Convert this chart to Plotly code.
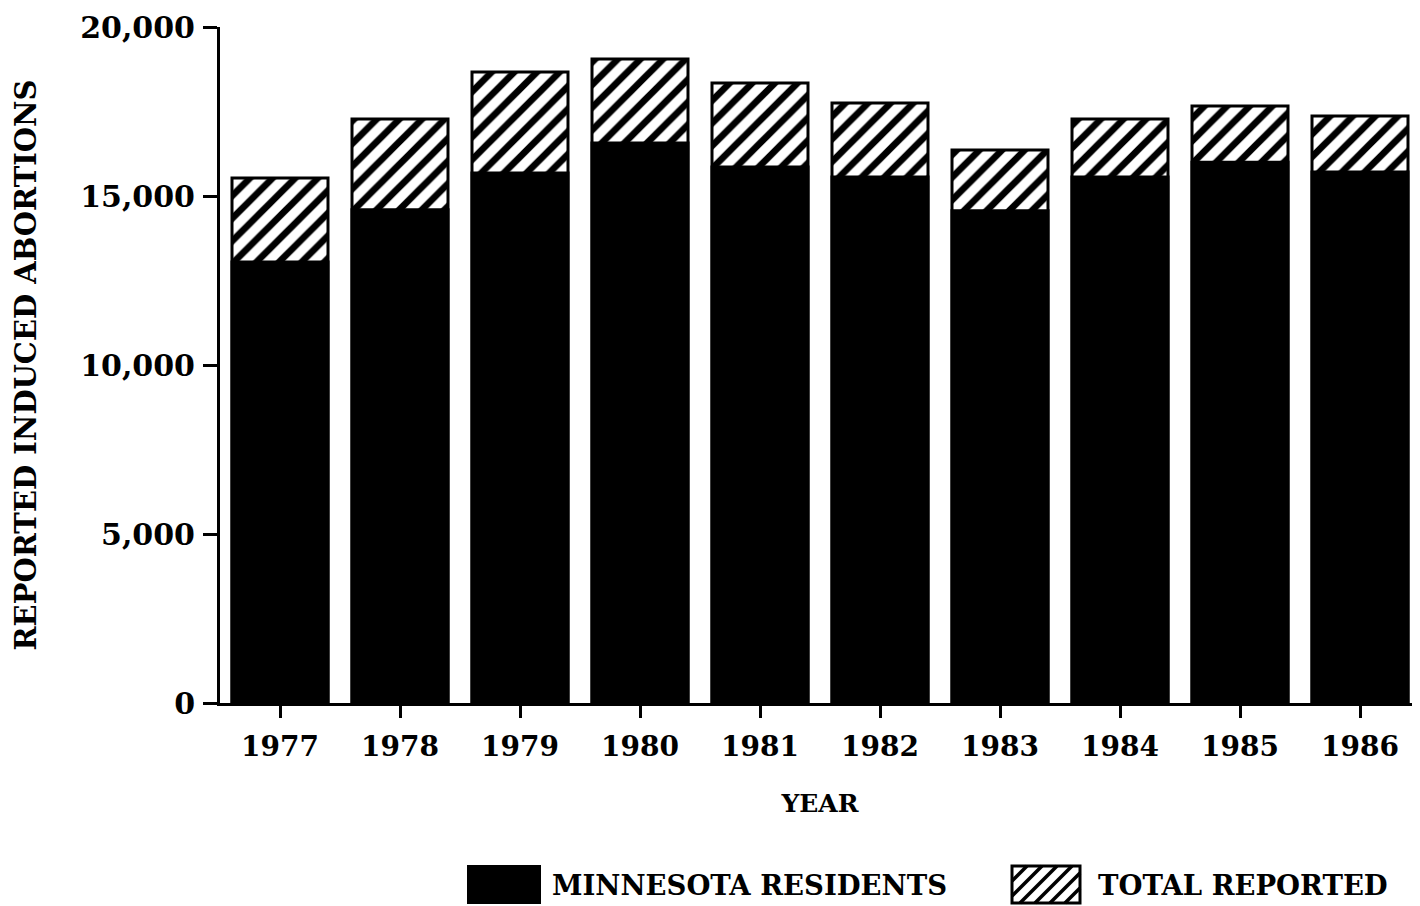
import plotly.graph_objects as go

# ----------------------------------------------------------
# DATA
# ----------------------------------------------------------

years = ["1977", "1978", "1979", "1980", "1981", "1982", "1983", "1984", "1985", "1986"]

minnesota_residents = [13050, 14590, 15680, 16570, 15860, 15560, 14560, 15560, 16000, 15710]

total_reported = [15530, 17280, 18670, 19050, 18340, 17750, 16360, 17280, 17660, 17370]

y_ticks = [0, 5000, 10000, 15000, 20000]


FONT = "DejaVu Serif"
INK = "black"

# page body has an 8px margin, so the figure is a bit smaller than the window
W, H = 1412, 898
L, T, B = 212, 19, 203
PW, PH = W - L, H - T - B


fig = go.Figure()

# hatched total first, solid residents drawn over it
fig.add_trace(go.Bar(
    x=years, y=total_reported, name="TOTAL REPORTED",
    opacity=1,
    marker=dict(
        color="white",
        line=dict(color=INK, width=3),
        pattern=dict(shape="/", fgcolor=INK, bgcolor="white", fgopacity=1,
                     size=16, solidity=0.42),
    ),
    showlegend=False,
))

fig.add_trace(go.Bar(
    x=years, y=minnesota_residents, name="MINNESOTA RESIDENTS",
    opacity=1,
    marker=dict(color=INK, line=dict(color=INK, width=3)),
    showlegend=False,
))

fig.update_layout(
    barmode="overlay",
    bargap=0.2,
    width=W,
    height=H,
    paper_bgcolor="white",
    plot_bgcolor="white",
    margin=dict(l=L, r=0, t=T, b=B),
    font=dict(family=FONT, size=26, color=INK),
)

fig.update_xaxes(
    showline=True, linecolor=INK, linewidth=3,
    ticks="outside", ticklen=12, tickwidth=3, tickcolor=INK,
    tickfont=dict(family=FONT, size=28, weight="bold"),
    ticklabelstandoff=4,
    title=dict(text="<b>YEAR</b>", font=dict(family=FONT, size=25), standoff=33),
    showgrid=False,
)

fig.update_yaxes(
    range=[0, 20000],
    tickvals=y_ticks,
    ticktext=[f"{v:,}" for v in y_ticks],
    showline=True, linecolor=INK, linewidth=3,
    ticks="outside", ticklen=14, tickwidth=3, tickcolor=INK,
    tickfont=dict(family=FONT, size=30, weight="bold"),
    ticklabelstandoff=2,
    title=dict(text="<b>REPORTED INDUCED ABORTIONS</b>", font=dict(family=FONT, size=29), standoff=36),
    showgrid=False, zeroline=False,
)

# ----------------------------------------------------------
# LEGEND (big swatches drawn as shapes, like the original)
# pixel positions below are page pixels of the reference image
# ----------------------------------------------------------

def fx(v):
    return (v - 8 - L) / PW

def fy(v):
    return 1 - (v - 8 - T) / PH

# solid swatch
fig.add_shape(type="rect", xref="paper", yref="paper",
              x0=fx(468), x1=fx(540), y0=fy(903), y1=fy(866),
              fillcolor=INK, line=dict(color=INK, width=2))

# hatched swatch
hx0, hx1, hy0, hy1 = 1012, 1080, 866, 903
fig.add_shape(type="rect", xref="paper", yref="paper",
              x0=fx(hx0), x1=fx(hx1), y0=fy(hy1), y1=fy(hy0),
              fillcolor="white", line=dict(color=INK, width=3))

step = 15
h = hy1 - hy0
start = hx0 - h
while start < hx1:
    ax, ay = start, hy1
    bx, by = start + h, hy0
    # clip to box
    if ax < hx0:
        ay = hy1 - (hx0 - ax)
        ax = hx0
    if bx > hx1:
        by = hy0 + (bx - hx1)
        bx = hx1
    if bx > ax:
        fig.add_shape(type="line", xref="paper", yref="paper",
                      x0=fx(ax), x1=fx(bx), y0=fy(ay), y1=fy(by),
                      line=dict(color=INK, width=3.5))
    start += step

fig.add_annotation(text="<b>MINNESOTA RESIDENTS</b>", xref="paper", yref="paper",
                   x=fx(550), y=fy(885),
                   xanchor="left", yanchor="middle", showarrow=False,
                   font=dict(family=FONT, size=27.5, color=INK))

fig.add_annotation(text="<b>TOTAL REPORTED</b>", xref="paper", yref="paper",
                   x=fx(1096), y=fy(885),
                   xanchor="left", yanchor="middle", showarrow=False,
                   font=dict(family=FONT, size=27.5, color=INK))

fig.write_html("out.html")
